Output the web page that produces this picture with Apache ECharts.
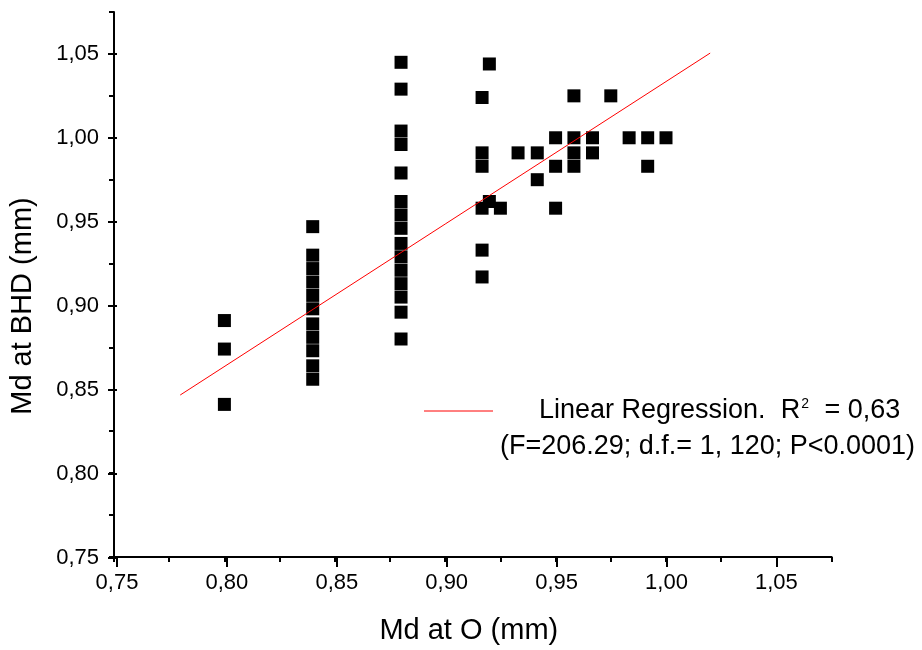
<!DOCTYPE html>
<html>
<head>
<meta charset="utf-8">
<script src="https://cdn.jsdelivr.net/npm/echarts@6/dist/echarts.min.js"></script>
<style>
  html, body { margin: 0; padding: 0; background: #fff; }
  #chart { width: 922px; height: 650px; }
</style>
</head>
<body>
<div id="chart"></div>
<script>
// observed points (Md at O, Md at BHD), read column by column
const pointX = [
  0.80, 0.80, 0.80,
  0.84, 0.84, 0.84, 0.84, 0.84, 0.84, 0.84, 0.84, 0.84, 0.84, 0.84,
  0.88, 0.88, 0.88, 0.88, 0.88, 0.88, 0.88, 0.88, 0.88, 0.88, 0.88, 0.88, 0.88, 0.88, 0.88,
  0.9167, 0.9167, 0.9167, 0.9167, 0.9167, 0.9167,
  0.92, 0.92, 0.925, 0.933, 0.9417, 0.9417,
  0.95, 0.95, 0.95, 0.9583, 0.9583, 0.9583, 0.9583,
  0.9667, 0.9667, 0.975, 0.9833, 0.9917, 0.9917, 1.00
]
const pointY = [
  0.891, 0.874, 0.841,
  0.947, 0.930, 0.922, 0.914, 0.906, 0.898, 0.889, 0.881, 0.873, 0.864, 0.856,
  1.045, 1.029, 1.004, 0.996, 0.979, 0.962, 0.954, 0.946, 0.937, 0.929, 0.921, 0.913, 0.905, 0.896, 0.880,
  1.024, 0.991, 0.983, 0.958, 0.933, 0.917,
  1.044, 0.962, 0.958, 0.991, 0.991, 0.975,
  1.000, 0.983, 0.958, 1.025, 1.000, 0.991, 0.983,
  1.000, 0.991, 1.025, 1.000, 1.000, 0.983, 1.000
]
// fitted regression line end points
const fitX = [0.78, 1.02]
const fitY = [0.8466, 1.0505]

const FONT = '"Liberation Sans", Arial, sans-serif'
const fmt = v => v.toFixed(2).replace('.', ',')

const chart = echarts.init(document.getElementById('chart'))

// grid 0: full axis extent with short ticks; grid 1: labelled major ticks up to 1,05
const minorAxis = {
  type: 'value',
  min: 0.75,
  max: 1.075,
  interval: 0.025,
  axisLine: { show: true, lineStyle: { color: '#000', width: 2 } },
  axisTick: { show: true, length: 5, lineStyle: { color: '#000', width: 2 } },
  axisLabel: { show: false },
  splitLine: { show: false }
}
const majorAxis = {
  type: 'value',
  min: 0.75,
  max: 1.05,
  interval: 0.05,
  axisLine: { show: false },
  axisTick: { show: true, length: 9, lineStyle: { color: '#000', width: 2 } },
  axisLabel: { show: true, color: '#000', fontFamily: FONT, fontSize: 22, formatter: fmt },
  splitLine: { show: false },
  nameTextStyle: { color: '#000', fontFamily: FONT, fontSize: 29 }
}

chart.setOption({
  animation: false,
  backgroundColor: '#fff',
  grid: [
    { left: 114, top: 12, width: 717.6, height: 546 },
    { left: 114, top: 54, width: 662.4, height: 504 }
  ],
  xAxis: [
    {
      ...minorAxis, gridIndex: 0,
      name: 'Md at O (mm)', nameLocation: 'middle', nameGap: 59,
      nameTextStyle: { color: '#000', fontFamily: FONT, fontSize: 29, padding: [0, 8, 0, 0] }
    },
    { ...majorAxis, gridIndex: 1, axisLabel: { ...majorAxis.axisLabel, margin: 14 } }
  ],
  yAxis: [
    { ...minorAxis, gridIndex: 0 },
    {
      ...majorAxis, gridIndex: 1,
      axisLabel: { ...majorAxis.axisLabel, margin: 18 },
      name: 'Md at BHD (mm)', nameLocation: 'middle', nameGap: 80
    }
  ],
  series: [
    {
      type: 'scatter',
      xAxisIndex: 0,
      yAxisIndex: 0,
      symbol: 'rect',
      symbolSize: 13,
      itemStyle: { color: '#000', opacity: 1 },
      data: pointX.map((x, i) => [x, pointY[i]])
    },
    {
      type: 'line',
      xAxisIndex: 0,
      yAxisIndex: 0,
      symbol: 'none',
      z: 5,
      lineStyle: { color: '#ff0000', width: 1 },
      data: fitX.map((x, i) => [x, fitY[i]])
    }
  ],
  graphic: [
    {
      type: 'line',
      shape: { x1: 424, y1: 411, x2: 493, y2: 411 },
      style: { stroke: '#ff0000', lineWidth: 1 }
    },
    {
      type: 'text',
      x: 539,
      y: 411,
      style: {
        text: '{a|Linear Regression.  R}{s|2}{a| = 0,63}',
        verticalAlign: 'middle',
        rich: {
          a: { fontFamily: FONT, fontSize: 27, fill: '#000' },
          s: { fontFamily: FONT, fontSize: 14, fill: '#000', padding: [0, 8, 14, 1] }
        }
      }
    },
    {
      type: 'text',
      x: 500,
      y: 447,
      style: {
        text: '(F=206.29; d.f.= 1, 120; P<0.0001)',
        fontFamily: FONT,
        fontSize: 27,
        fill: '#000',
        verticalAlign: 'middle'
      }
    }
  ]
})
</script>
</body>
</html>
